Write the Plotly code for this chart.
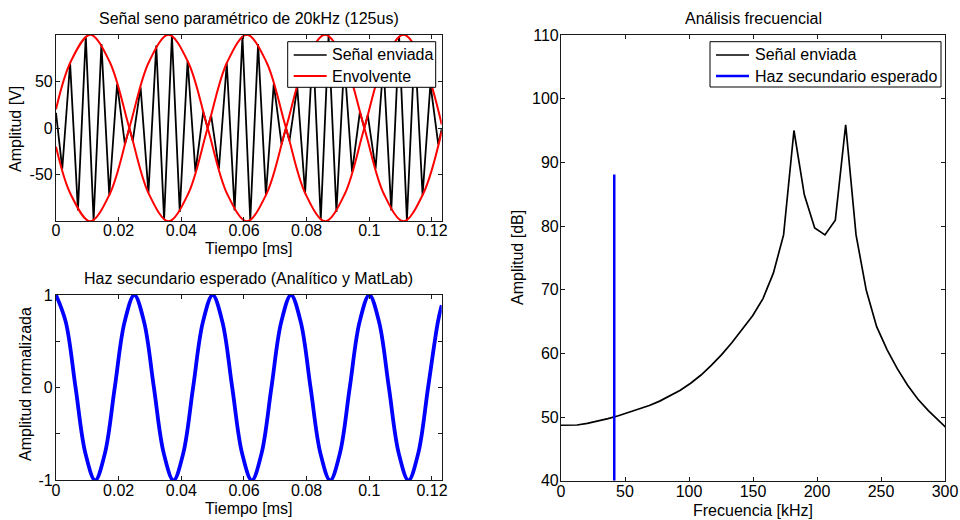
import plotly.graph_objects as go

# ---------------- Señal enviada (extremos de la portadora, t en ms) ----------------
t_senal = [0, 0.002, 0.0045, 0.007, 0.0095, 0.012, 0.0145, 0.017, 0.0195, 0.022,
           0.0234, 0.0245, 0.027, 0.0295, 0.032, 0.0345, 0.037, 0.0395, 0.042, 0.0445, 0.047,
           0.0484, 0.0495, 0.052, 0.0545, 0.057, 0.0595, 0.062, 0.0645, 0.067, 0.0695, 0.072,
           0.0734, 0.0745, 0.077, 0.0795, 0.082, 0.0845, 0.087, 0.0895, 0.092, 0.0945, 0.097,
           0.0984, 0.0995, 0.102, 0.1045, 0.107, 0.1095, 0.112, 0.1145, 0.117, 0.1195, 0.122,
           0.1231]
v_senal = [16.2, -43.7, 69.4, -88.2, 98.5, -99.1, 89.9, -72.0, 47.1, -17.5,
           0.0, -13.8, 43.7, -69.4, 88.2, -98.5, 99.1, -89.9, 72.0, -47.1, 17.5,
           0.0, 13.8, -43.7, 69.4, -88.2, 98.5, -99.1, 89.9, -72.0, 47.1, -17.5,
           0.0, -13.8, 43.7, -69.4, 88.2, -98.5, 99.1, -89.9, 72.0, -47.1, 17.5,
           0.0, 13.8, -43.7, 69.4, -88.2, 98.5, -99.1, 89.9, -72.0, 47.1, -17.5,
           -1.0]

# ---------------- Envolvente (dos ramas) ----------------
t_env = [0, 0.00465, 0.0109, 0.01715, 0.0234, 0.02965, 0.0359, 0.04215, 0.0484,
         0.05465, 0.0609, 0.06715, 0.0734, 0.07965, 0.0859, 0.09215, 0.0984,
         0.10465, 0.1109, 0.11715, 0.1231]
env_sup = [20.0, 70.7, 100.0, 70.7, 0.0, -70.7, -100.0, -70.7, 0.0,
           70.7, 100.0, 70.7, 0.0, -70.7, -100.0, -70.7, 0.0,
           70.7, 100.0, 70.7, 3.8]
env_inf = [-20.0, -70.7, -100.0, -70.7, 0.0, 70.7, 100.0, 70.7, 0.0,
           -70.7, -100.0, -70.7, 0.0, 70.7, 100.0, 70.7, 0.0,
           -70.7, -100.0, -70.7, -3.8]

# ---------------- Haz secundario esperado (normalizado) ----------------
t_haz = [0, 0.003125, 0.00625, 0.009375, 0.0125, 0.015625, 0.01875, 0.021875,
         0.025, 0.028125, 0.03125, 0.034375, 0.0375, 0.040625, 0.04375, 0.046875,
         0.05, 0.053125, 0.05625, 0.059375, 0.0625, 0.065625, 0.06875, 0.071875,
         0.075, 0.078125, 0.08125, 0.084375, 0.0875, 0.090625, 0.09375, 0.096875,
         0.1, 0.103125, 0.10625, 0.109375, 0.1125, 0.115625, 0.11875, 0.121875,
         0.1231]
v_haz = [1, 0.707, 0, -0.707, -1, -0.707, 0, 0.707,
         1, 0.707, 0, -0.707, -1, -0.707, 0, 0.707,
         1, 0.707, 0, -0.707, -1, -0.707, 0, 0.707,
         1, 0.707, 0, -0.707, -1, -0.707, 0, 0.707,
         1, 0.707, 0, -0.707, -1, -0.707, 0, 0.707,
         0.89]

# ---------------- Espectro (kHz, dB) ----------------
f_espectro = [-3.6, 4.5, 12.5, 20.6, 28.7, 36.7, 44.8, 52.9, 60.9, 69.0, 77.1, 85.2,
              93.2, 101.3, 109.4, 117.4, 125.5, 133.6, 141.6, 149.7, 157.8, 165.9,
              173.9, 182.0, 190.1, 198.2, 206.2, 214.3, 222.4, 230.5, 238.5, 246.6,
              254.7, 262.7, 270.8, 278.9, 287.0, 295.0, 303.1]
db_espectro = [48.7, 48.7, 48.75, 49.0, 49.35, 49.75, 50.2, 50.7, 51.2, 51.8, 52.5, 53.3,
               54.2, 55.3, 56.6, 58.1, 59.8, 61.7, 63.7, 65.9, 68.6, 72.6,
               78.6, 95.0, 84.9, 79.7, 78.6, 80.9, 95.9, 78.6, 69.9, 64.2,
               60.6, 57.6, 55.0, 52.8, 51.0, 49.4, 47.9]
f_haz = [41.6, 41.6]
db_haz = [40.0, 88.1]

# ---------------- Ticks ----------------
t_ticks = [0, 0.02, 0.04, 0.06, 0.08, 0.1, 0.12]
t_ticktext = ["0", "0.02", "0.04", "0.06", "0.08", "0.1", "0.12"]
amp_ticks = [-50, 0, 50]
amp_ticktext = ["-50", "0", "50"]
norm_ticks = [-1, -0.5, 0, 0.5, 1]
norm_ticktext = ["-1", "", "0", "", "1"]
f_ticks = [0, 50, 100, 150, 200, 250, 300]
f_ticktext = ["0", "50", "100", "150", "200", "250", "300"]
db_ticks = [40, 50, 60, 70, 80, 90, 100, 110]
db_ticktext = ["40", "50", "60", "70", "80", "90", "100", "110"]

FONT = "Liberation Sans, Arial, Helvetica, sans-serif"
FS = 16
W, H = 960, 520

BLACK_W = 1.8
RED_W = 2.0
SPEC_W = 1.7
BLUE_SPEC_W = 2.5

fig = go.Figure()

fig.add_trace(go.Scatter(x=t_senal, y=v_senal, mode="lines", name="Señal enviada",
                         line=dict(color="black", width=BLACK_W), showlegend=False,
                         xaxis="x", yaxis="y"))
fig.add_trace(go.Scatter(x=t_env, y=env_sup, mode="lines", name="Envolvente",
                         line=dict(color="#ff0000", width=RED_W, shape="spline"),
                         showlegend=False, xaxis="x", yaxis="y"))
fig.add_trace(go.Scatter(x=t_env, y=env_inf, mode="lines", name="Envolvente",
                         line=dict(color="#ff0000", width=RED_W, shape="spline"),
                         showlegend=False, xaxis="x", yaxis="y"))

fig.add_trace(go.Scatter(x=t_haz, y=v_haz, mode="lines", showlegend=False,
                         line=dict(color="#0000ff", width=3.8, shape="spline"),
                         xaxis="x2", yaxis="y2"))

fig.add_trace(go.Scatter(x=f_espectro, y=db_espectro, mode="lines", name="Señal enviada",
                         line=dict(color="black", width=SPEC_W), showlegend=False,
                         xaxis="x3", yaxis="y3"))
fig.add_trace(go.Scatter(x=f_haz, y=db_haz, mode="lines", name="Haz secundario esperado",
                         line=dict(color="#0000ff", width=BLUE_SPEC_W), showlegend=False,
                         xaxis="x3", yaxis="y3"))


def axis_style(standoff, **kw):
    base = dict(showline=True, mirror="ticks", linecolor="#1a1a1a", linewidth=1.2,
                ticks="inside", ticklen=4, tickwidth=1, tickcolor="#1a1a1a",
                showgrid=False, zeroline=False, tickmode="array", automargin=False,
                ticklabelstandoff=standoff,
                tickfont=dict(family=FONT, size=FS, color="black"))
    base.update(kw)
    return base


left_dom = [56 / W, 441.7 / W]
right_dom = [561 / W, 945 / W]

fig.update_layout(
    width=W, height=H, autosize=False,
    margin=dict(l=0, r=0, t=0, b=0, pad=0, autoexpand=False),
    paper_bgcolor="white", plot_bgcolor="white",
    font=dict(family=FONT, size=FS, color="black"),
    showlegend=False,
    xaxis=axis_style(-5, domain=left_dom, range=[0, 0.1231], anchor="y",
                     tickvals=t_ticks, ticktext=t_ticktext),
    yaxis=axis_style(-1, domain=[1 - 221 / H, 1 - 35 / H], range=[-99.6, 99.6], anchor="x",
                     tickvals=amp_ticks, ticktext=amp_ticktext),
    xaxis2=axis_style(-5, domain=left_dom, range=[0, 0.1231], anchor="y2",
                      tickvals=t_ticks, ticktext=t_ticktext),
    yaxis2=axis_style(-1, domain=[1 - 480.3 / H, 1 - 295 / H], range=[-1, 1], anchor="x2",
                      tickvals=norm_ticks, ticktext=norm_ticktext),
    xaxis3=axis_style(-4, domain=right_dom, range=[0, 300], anchor="y3",
                      tickvals=f_ticks, ticktext=f_ticktext),
    yaxis3=axis_style(-2, domain=[1 - 480.7 / H, 1 - 35 / H], range=[40, 110], anchor="x3",
                      tickvals=db_ticks, ticktext=db_ticktext),
)


def px_x(v):
    return v / W


def px_y(v):
    return 1 - v / H


def add_text(text, x, y, angle=0, anchor="center"):
    fig.add_annotation(text=text, x=px_x(x), y=px_y(y), xref="paper", yref="paper",
                       xanchor=anchor, yanchor="middle", showarrow=False, textangle=angle,
                       font=dict(family=FONT, size=FS, color="black"))


# titles and axis labels
add_text("Señal seno paramétrico de 20kHz (125us)", 248.9, 18.3)
add_text("Haz secundario esperado (Analítico y MatLab)", 248.9, 278.3)
add_text("Análisis frecuencial", 753, 18.3)
add_text("Tiempo [ms]", 248.9, 248)
add_text("Tiempo [ms]", 248.9, 508)
add_text("Frecuencia [kHz]", 753, 510)
add_text("Amplitud [V]", 15, 129, -90)
add_text("Amplitud normalizada", 25, 384, -90)
add_text("Amplitud [dB]", 517, 258, -90)


# boxed legends (MATLAB style)
def add_legend(box, entries):
    x0, y0, x1, y1 = box
    fig.add_shape(type="rect", xref="paper", yref="paper",
                  x0=px_x(x0), x1=px_x(x1), y0=px_y(y0), y1=px_y(y1),
                  line=dict(color="black", width=1), fillcolor="white", layer="above")
    for i, (label, color, width) in enumerate(entries):
        yy = y0 + 13.3 + 21 * i
        fig.add_shape(type="line", xref="paper", yref="paper",
                      x0=px_x(x0 + 6), x1=px_x(x0 + 39), y0=px_y(yy), y1=px_y(yy),
                      line=dict(color=color, width=width), layer="above")
        add_text(label, x0 + 42.5, yy, anchor="left")


add_legend((287.7, 41.7, 435.7, 87.3),
           [("Señal enviada", "black", 1.6), ("Envolvente", "#ff0000", 1.8)])
add_legend((710, 41.7, 941, 87.0),
           [("Señal enviada", "black", 1.5), ("Haz secundario esperado", "#0000ff", 2.4)])

fig.write_html("out.html")
